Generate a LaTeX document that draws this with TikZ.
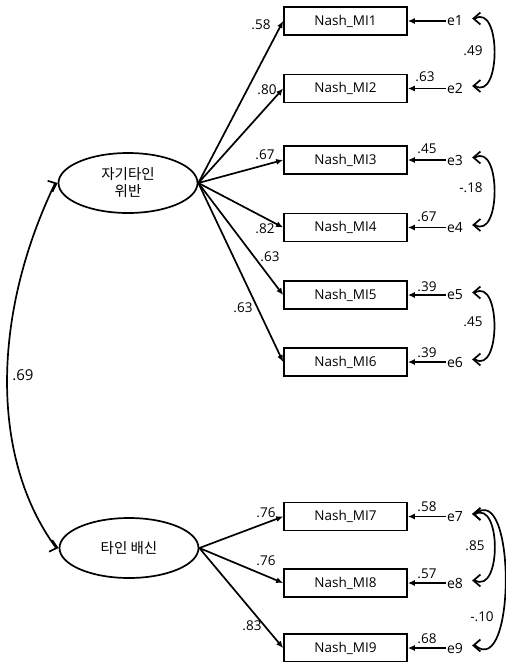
\documentclass[tikz,border=0pt]{standalone}
\usepackage{fontspec}
\setmainfont{Open Sans}
\newfontfamily\krfont{Noto Sans CJK KR}
\usepackage{tikz}
\usetikzlibrary{arrows.meta, positioning, shapes.geometric}

\tikzset{
  %% Observed indicator box
  ibox/.style={
    rectangle, draw=black, fill=white,
    minimum width=123pt, minimum height=28pt,
    inner sep=0pt, line width=1.7pt,
    font=\fontsize{13.5}{16}\selectfont
  },
  %% Latent factor
  lvar/.style={
    ellipse, draw=black, fill=white,
    minimum width=139pt, minimum height=60pt,
    inner sep=0pt, align=center, line width=1.7pt,
    font=\krfont\fontsize{14.5}{17}\selectfont
  },
  %% Error term
  evar/.style={inner sep=1pt, font=\fontsize{14}{16}\selectfont},
  %% Estimate label
  coef/.style={inner sep=0pt, font=\fontsize{13.5}{16}\selectfont},
  %% Arrows
  arr/.style={-{Latex[length=7pt,width=6pt]}, line width=1.7pt},
  cov/.style={{Straight Barb[length=7pt,width=12pt]}-%
              {Straight Barb[length=7pt,width=12pt]}, line width=1.7pt},
}

\begin{document}
\begin{tikzpicture}[x=1pt, y=-1pt]
  \useasboundingbox (0,0) rectangle (506,662);

  \node[lvar] (f1) at (128,183) {자기타인\\위반};
  \node[lvar] (f2) at (129,548) {타인 배신};

  %% Indicators and errors
  \foreach \i/\y in {1/21, 2/88.5, 3/160, 4/227.5, 5/295, 6/362,
                     7/516.5, 8/583, 9/648} {
    \node[ibox] (m\i) at (345.5,\y) {Nash\_MI\i};
    \node[evar] (e\i) at (455,\y) {e\i};
    \coordinate (k\i) at ([xshift=8pt, yshift=2.5pt]e\i.east);
    \draw[arr] (e\i) -- (m\i);
  }

  %% Loadings
  \foreach \i in {1,...,6}
    \draw[arr] (f1.east) -- (m\i.west);
  \foreach \i in {7,8,9}
    \draw[arr] (f2.east) -- (m\i.west);

  \foreach \n/\x/\y/\v in {p1/261/25/.58, p2/267/90/.80, p3/265/155/.67,
                           p4/265/229/.82, p5/270/257/.63, p6/243/308/.63,
                           p7/266/513/.76, p8/266/561/.76, p9/252/626/.83,
                           r2/425/77/.63, r3/427/149/.45, r4/427/217/.67,
                           r5/427/287/.39, r6/427/353/.39, r7/427/507/.58,
                           r8/427/574/.57, r9/427/639/.68,
                           s1/473/51/.49, s2/471/188/-.18, s3/473/322/.45,
                           s4/475/546/.85, s5/482/617/-.10}
    \node[coef] (\n) at (\x,\y) {\v};

  %% Covariances
  \draw[cov] (k1) -- ++(3,0) to[out=30, in=-30, looseness=1.14]
             ([xshift=3pt]k2) -- (k2);
  \draw[cov] (k3) -- ++(3,0) to[out=30, in=-30, looseness=1.14]
             ([xshift=3pt]k4) -- (k4);
  \draw[cov] (k5) -- ++(3,0) to[out=30, in=-30, looseness=1.14]
             ([xshift=3pt]k6) -- (k6);
  \draw[cov] (k7) -- ++(3,0) to[out=28, in=-28, looseness=1.15]
             ([xshift=3pt]k8) -- (k8);
  \draw[cov] (k7) -- ++(3,0) to[out=40, in=-40, looseness=1.04]
             ([xshift=3pt]k9) -- (k9);
  \draw[cov] (f1.west) -- ++(-3,1.3) .. controls (-9,317) and (-9,459) ..
             ([shift={(-3,-0.8)}]f2.west) -- (f2.west);
  \node[coef, font=\fontsize{15}{17}\selectfont] (fc) at (23,375) {.69};

\end{tikzpicture}
\end{document}
